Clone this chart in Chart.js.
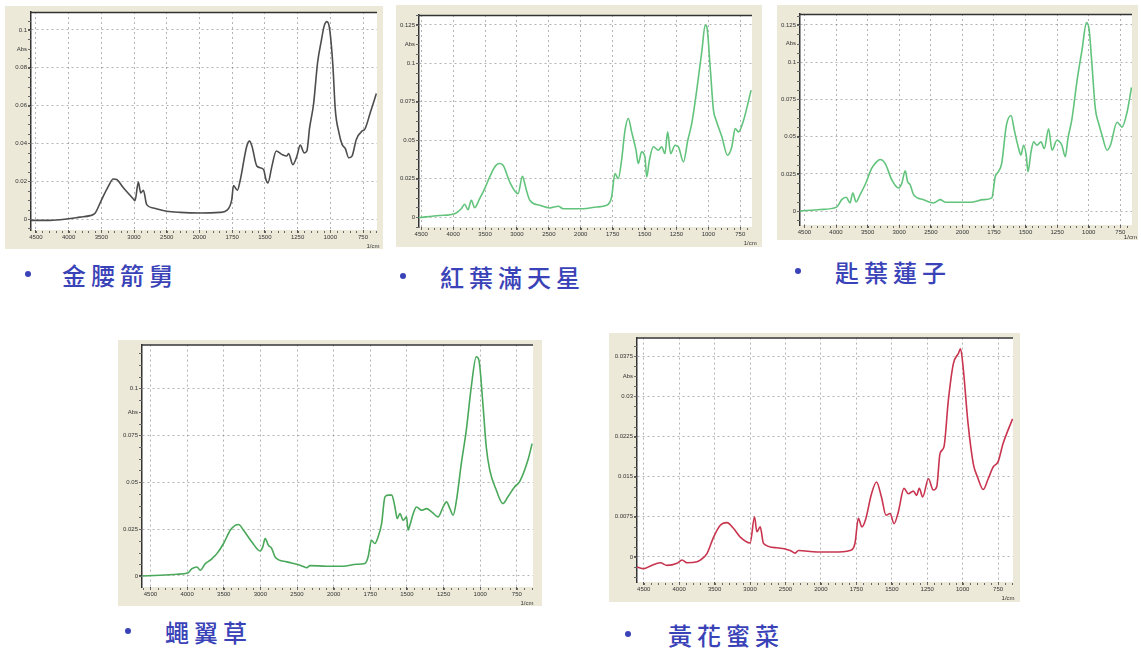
<!DOCTYPE html>
<html>
<head>
<meta charset="utf-8">
<script src="https://cdn.jsdelivr.net/npm/chart.js@4/dist/chart.umd.min.js"></script>
<style>
  html, body { margin: 0; padding: 0; background: #fff; }
  body { width: 1141px; height: 650px; position: relative; overflow: hidden; }
  .panel { position: absolute; background: #ece9d8; }
  .panel canvas { position: absolute; left: 0; top: 0; }
  .name { position: absolute; font-family: "Noto Sans CJK TC", "Noto Sans CJK SC", sans-serif; font-size: 24px;
          font-weight: 500; line-height: 28px; color: #3a42b8; letter-spacing: 5px; white-space: nowrap; }
  .dot { position: absolute; width: 6px; height: 6px; border-radius: 50%; background: #3a42b8; }
</style>
</head>
<body>
<script>
// ---- Specimen names ----
const specimenNames = ["金腰箭舅", "紅葉滿天星", "匙葉蓮子", "蠅翼草", "黃花蜜菜"];

// ---- Wavenumber tick labels (cm-1); scale changes at 2000 ----
const wnTicks = [4500, 4000, 3500, 3000, 2500, 2000, 1750, 1500, 1250, 1000, 750];

// ---- Absorbance tick labels per spectrum ----
const absTicks1 = [0, 0.02, 0.04, 0.06, 0.08, 0.1];
const absTicks2 = [0, 0.025, 0.05, 0.075, 0.1, 0.125];
const absTicks3 = [0, 0.025, 0.05, 0.075, 0.1, 0.125];
const absTicks4 = [0, 0.025, 0.05, 0.075, 0.1];
const absTicks5 = [0, 0.0075, 0.015, 0.0225, 0.03, 0.0375];

// ---- 金腰箭舅 ----
const wn1 = [4580,4286,4031,3827,3673,3597,3495,3393,3316,3265,3163,3010,2985,2934,2898,2857,2806,2704,2500,2296,
             1995,1842,1791,1753,1740,1710,1690,1638,1617,1599,1561,1510,1492,1477,1446,1413,1370,1332,1319,1286,
             1255,1230,1199,1179,1158,1128,1097,1071,1046,1026,1005,980,962,934,910,885,859,834,801,758,737,694,648];
const abs1 = [-0.0007,-0.0007,0,0.001,0.0018,0.003,0.0103,0.0173,0.0212,0.0209,0.0165,0.0106,0.0097,0.0195,0.0138,0.0152,0.0076,0.0058,0.0041,0.0035,
              0.0032,0.0035,0.0046,0.0103,0.0177,0.0152,0.02,0.0386,0.0412,0.0386,0.028,0.0262,0.0209,0.0191,0.028,0.036,0.0342,0.0333,0.0347,0.0288,
              0.0333,0.0391,0.035,0.036,0.0483,0.0607,0.0828,0.0934,0.1023,0.1044,0.1005,0.081,0.058,0.0457,0.0395,0.0372,0.0324,0.0333,0.0421,0.0465,0.0474,0.0563,0.0664];

// ---- 紅葉滿天星 ----
const wn2 = [4537,4212,3976,3872,3820,3767,3715,3662,3584,3505,3427,3348,3280,3217,3113,2982,2914,2877,2851,2798,
             2641,2484,2353,2275,1980,1875,1797,1758,1732,1706,1680,1653,1627,1601,1567,1549,1523,1497,1483,1462,
             1431,1392,1366,1340,1319,1296,1261,1235,1195,1161,1130,1091,1050,1025,1012,986,960,939,894,850,816,790,764,724,665];
const abs2 = [-0.0004,0.001,0.0022,0.0054,0.0083,0.0048,0.0109,0.0061,0.012,0.0185,0.0261,0.0326,0.0348,0.0337,0.0228,0.0152,0.0265,0.0217,0.0174,0.0109,
              0.0076,0.0059,0.007,0.0054,0.0054,0.0065,0.0076,0.013,0.0283,0.025,0.037,0.0565,0.0641,0.0554,0.0435,0.0348,0.0424,0.0391,0.0261,0.037,
              0.0457,0.0435,0.0457,0.0413,0.0554,0.0413,0.0467,0.0457,0.0359,0.05,0.0609,0.0826,0.1087,0.125,0.1239,0.0978,0.0696,0.063,0.0522,0.0402,0.0457,0.0576,0.0554,0.063,0.0826];

// ---- 匙葉蓮子 ----
const wn3 = [4570,4250,3990,3910,3840,3777,3735,3682,3619,3540,3434,3355,3302,3223,3117,3011,2958,2905,2868,2826,
             2773,2615,2457,2351,2272,1937,1832,1767,1740,1715,1689,1652,1615,1589,1555,1537,1516,1495,1481,1457,
             1436,1410,1378,1352,1318,1291,1252,1213,1186,1165,1133,1093,1053,1018,997,974,948,921,895,855,829,776,737,697,662];
const abs3 = [0,0.0011,0.0027,0.0077,0.0093,0.0055,0.0122,0.0062,0.0111,0.0177,0.0288,0.0332,0.0347,0.0321,0.021,0.0155,0.0188,0.027,0.0199,0.0177,
              0.0111,0.0077,0.0055,0.0077,0.006,0.006,0.0077,0.0089,0.0232,0.0265,0.0321,0.0575,0.0642,0.0542,0.042,0.0376,0.0442,0.0376,0.0265,0.0398,
              0.0465,0.0442,0.0465,0.042,0.0553,0.0409,0.0476,0.0442,0.0365,0.0487,0.062,0.0874,0.1084,0.1265,0.1217,0.0973,0.0686,0.0586,0.0509,0.0409,0.0442,0.0597,0.0564,0.0664,0.083];

// ---- 蠅翼草 ----
const wn4 = [4613,4364,4137,3992,3933,3865,3820,3751,3683,3638,3593,3502,3411,3343,3298,3230,3116,3003,2967,2935,
             2890,2844,2799,2640,2458,2367,2322,2095,1935,1844,1787,1765,1742,1719,1697,1673,1650,1627,1604,1582,
             1566,1548,1525,1503,1492,1480,1457,1435,1400,1366,1332,1287,1253,1230,1207,1185,1162,1129,1095,1061,
             1027,1009,982,959,935,890,845,811,766,732,675,646];
const abs4 = [0,0.0004,0.0009,0.0016,0.0039,0.0048,0.003,0.0066,0.0084,0.0101,0.0119,0.0173,0.0244,0.027,0.0274,0.0244,0.0181,0.0133,0.0155,0.0199,
              0.0164,0.0146,0.0101,0.0075,0.0057,0.0044,0.0055,0.0052,0.0052,0.0062,0.0066,0.0101,0.019,0.0173,0.0208,0.0279,0.0422,0.0431,0.0431,0.0368,
              0.0306,0.0333,0.0297,0.0315,0.0244,0.027,0.0333,0.0368,0.035,0.0359,0.0342,0.0315,0.0368,0.0395,0.0359,0.0324,0.0404,0.06,0.0778,0.1009,
              0.1169,0.1151,0.092,0.0689,0.0564,0.0457,0.0386,0.0422,0.0475,0.0502,0.0617,0.0706];

// ---- 黃花蜜菜 ----
const wn5 = [4594,4500,4406,4265,4171,4031,3960,3890,3749,3702,3608,3514,3420,3326,3232,3138,2998,2937,2904,2857,
             2810,2622,2434,2364,2317,2058,1912,1794,1760,1736,1711,1686,1643,1608,1573,1541,1512,1484,1454,1414,
             1383,1348,1325,1306,1282,1242,1207,1183,1160,1132,1101,1066,1031,1015,997,962,925,895,855,820,785,750,715,680,648];
const abs5 = [-0.0019,-0.0022,-0.0017,-0.0011,-0.0016,-0.0012,-0.0006,-0.0011,-0.0009,-0.0006,0.0006,0.0037,0.0059,0.0064,0.0053,0.0037,0.0026,0.0075,0.0047,0.0056,
              0.0025,0.0017,0.0012,0.0007,0.0012,0.0009,0.0009,0.0012,0.0025,0.0072,0.0056,0.0069,0.0118,0.014,0.0112,0.0078,0.0081,0.0062,0.0084,0.0128,
              0.0118,0.0123,0.0115,0.0128,0.0112,0.0146,0.0125,0.0131,0.0193,0.0206,0.0293,0.0361,0.038,0.0389,0.0355,0.0249,0.0174,0.0149,0.0126,0.0146,
              0.0168,0.0178,0.0212,0.0237,0.0258];

// Split wavenumber axis: 500 cm-1 per division above 2000, 250 cm-1 per division below.
function wnToPos(w) { return w >= 2000 ? (4500 - w) / 500 : 5 + (2000 - w) / 250; }
function posToWn(p) { return p <= 5 ? 4500 - 500 * p : 2000 - 250 * (p - 5); }

const tickFont = { family: "Liberation Sans, Arial, sans-serif", size: 6 };
const gridColor = "rgba(130,130,130,0.6)";

// Layout of the five panels (box in page px, plot insets inside the box)
const panels = [
  { wn: wn1, abs: abs1, ticks: absTicks1, color: "#4d4d4d", wnRange: [4575, 643], absRange: [-0.0058, 0.1095],
    box: { x: 5, y: 6, w: 378, h: 243 }, inset: { l: 26, t: 6, r: 6, b: 19 },
    label: { dotX: 28, x: 62, cy: 275 } },
  { wn: wn2, abs: abs2, ticks: absTicks2, color: "#62c47c", wnRange: [4535, 658], absRange: [-0.0065, 0.1315],
    box: { x: 396, y: 5, w: 366, h: 242 }, inset: { l: 23, t: 10, r: 10, b: 20 },
    label: { dotX: 403, x: 440, cy: 277 } },
  { wn: wn3, abs: abs3, ticks: absTicks3, color: "#62c47c", wnRange: [4570, 658], absRange: [-0.0093, 0.1323],
    box: { x: 777, y: 5, w: 361, h: 235 }, inset: { l: 23, t: 9, r: 6, b: 15 },
    label: { dotX: 798, x: 835, cy: 272 } },
  { wn: wn4, abs: abs4, ticks: absTicks4, color: "#4aa85a", wnRange: [4615, 640], absRange: [-0.0059, 0.1234],
    box: { x: 118, y: 340, w: 424, h: 266 }, inset: { l: 24, t: 4, r: 9, b: 19 },
    label: { dotX: 128, x: 165, cy: 632 } },
  { wn: wn5, abs: abs5, ticks: absTicks5, color: "#c9344f", wnRange: [4595, 645], absRange: [-0.0047, 0.041],
    box: { x: 609, y: 333, w: 411, h: 269 }, inset: { l: 28, t: 4, r: 7, b: 20 },
    label: { dotX: 628, x: 668, cy: 635 } }
];

// Plot frame: white plotting area, dark top edge, minor ticks, unit captions
const framePlugin = {
  id: "irFrame",
  beforeDraw(chart) {
    const { ctx, chartArea: a } = chart;
    ctx.save();
    ctx.fillStyle = "#ece9d8";
    ctx.fillRect(0, 0, chart.width, chart.height);
    ctx.fillStyle = "#ffffff";
    ctx.fillRect(a.left, a.top, a.right - a.left, a.bottom - a.top);
    ctx.restore();
  },
  afterDraw(chart) {
    const { ctx, chartArea: a, scales: { x, y } } = chart;
    ctx.save();
    ctx.strokeStyle = "#333";
    ctx.lineWidth = 1.5;
    ctx.beginPath();
    ctx.moveTo(a.left, a.top + 0.5);
    ctx.lineTo(a.right, a.top + 0.5);
    ctx.stroke();

    // minor ticks along the wavenumber axis (5 per division)
    ctx.lineWidth = 1;
    ctx.strokeStyle = "#666";
    ctx.beginPath();
    for (let p = Math.ceil(x.min / 0.2) * 0.2; p <= x.max; p += 0.2) {
      const px = Math.round(x.getPixelForValue(p)) + 0.5;
      ctx.moveTo(px, a.bottom + 1);
      ctx.lineTo(px, a.bottom + 3);
    }
    ctx.stroke();

    // minor ticks along the absorbance axis
    const t = chart.options.absTicks;
    const step = t[1] - t[0];
    ctx.beginPath();
    for (let k = Math.ceil(y.min / (step / 4)); k * step / 4 <= y.max; k++) {
      const py = Math.round(y.getPixelForValue(k * step / 4)) + 0.5;
      ctx.moveTo(a.left - 3, py);
      ctx.lineTo(a.left, py);
    }
    ctx.stroke();

    // unit captions
    ctx.fillStyle = "#333";
    ctx.font = "6px Liberation Sans, Arial, sans-serif";
    ctx.textAlign = "right";
    ctx.textBaseline = "middle";
    const top = t[t.length - 1];
    ctx.fillText("Abs", a.left - 4, y.getPixelForValue(top - step * 0.5));
    ctx.textAlign = "center";
    ctx.fillText("1/cm", x.getPixelForValue(wnToPos(750)) + 10, Math.min(a.bottom + 16, chart.height - 3));
    ctx.restore();
  }
};

panels.forEach((p, i) => {
  const box = document.createElement("div");
  box.className = "panel";
  Object.assign(box.style, { left: p.box.x + "px", top: p.box.y + "px", width: p.box.w + "px", height: p.box.h + "px" });
  const canvas = document.createElement("canvas");
  canvas.width = p.box.w;
  canvas.height = p.box.h;
  canvas.style.width = p.box.w + "px";
  canvas.style.height = p.box.h + "px";
  box.appendChild(canvas);
  document.body.appendChild(box);

  const points = p.wn.map((w, k) => ({ x: wnToPos(w), y: p.abs[k] }));

  new Chart(canvas, {
    type: "line",
    data: { datasets: [{ data: points, borderColor: p.color, borderWidth: 1.6, pointRadius: 0,
                         cubicInterpolationMode: "monotone", fill: false }] },
    options: {
      responsive: false,
      animation: false,
      absTicks: p.ticks,
      layout: { padding: { left: 0, top: p.inset.t, right: p.inset.r, bottom: 0 } },
      plugins: { legend: { display: false }, tooltip: { enabled: false } },
      scales: {
        x: {
          type: "linear",
          min: wnToPos(p.wnRange[0]),
          max: wnToPos(p.wnRange[1]),
          afterBuildTicks: s => { s.ticks = wnTicks.map(w => ({ value: wnToPos(w) })); },
          afterFit: s => { s.height = p.inset.b; },
          ticks: { font: tickFont, color: "#333", padding: 1, maxRotation: 0, autoSkip: false,
                   callback: v => String(Math.round(posToWn(v))) },
          grid: { color: gridColor, lineWidth: 1, drawTicks: true, tickLength: 3,
                  tickColor: "#555", tickBorderDash: [] },
          border: { display: false, dash: [2, 3] }
        },
        y: {
          type: "linear",
          min: p.absRange[0],
          max: p.absRange[1],
          afterBuildTicks: s => { s.ticks = p.ticks.map(v => ({ value: v })); },
          afterFit: s => { s.width = p.inset.l; },
          ticks: { font: tickFont, color: "#333", padding: 1, callback: v => String(v) },
          grid: { color: gridColor, lineWidth: 1, drawTicks: true, tickLength: 3,
                  tickColor: "#555", tickBorderDash: [] },
          border: { display: true, color: "#333", width: 1.5, dash: [2, 3] }
        }
      }
    },
    plugins: [framePlugin]
  });

  const dot = document.createElement("div");
  dot.className = "dot";
  dot.style.left = (p.label.dotX - 3) + "px";
  dot.style.top = (p.label.cy - 4) + "px";
  document.body.appendChild(dot);

  const name = document.createElement("div");
  name.className = "name";
  name.textContent = specimenNames[i];
  name.style.left = p.label.x + "px";
  name.style.top = (p.label.cy - 14) + "px";
  document.body.appendChild(name);
});
</script>
</body>
</html>
